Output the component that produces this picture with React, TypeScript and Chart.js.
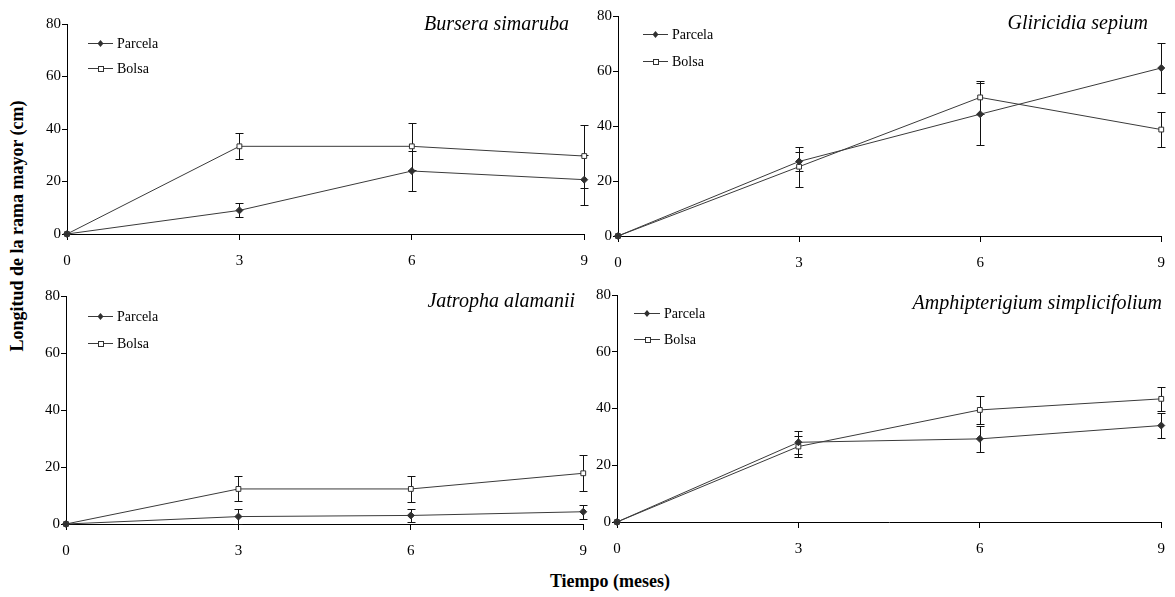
import React, { useEffect, useRef } from 'react';
import { Chart, registerables } from 'chart.js';

Chart.register(...registerables);

// ---------- data ----------
const months = [0, 3, 6, 9];
const xTickValues = [0, 3, 6, 9];
const yTickValues = [0, 20, 40, 60, 80];
const seriesNames = ['Parcela', 'Bolsa'];
const speciesNames = [
  'Bursera simaruba',
  'Gliricidia sepium',
  'Jatropha alamanii',
  'Amphipterigium simplicifolium',
];
const yAxisTitle = 'Longitud de la rama mayor (cm)';
const xAxisTitle = 'Tiempo (meses)';

const burseraParcela = [0, 9.0, 24.0, 20.7];
const burseraParcelaErr = [0, 2.7, 7.5, 9.5];
const burseraBolsa = [0, 33.4, 33.4, 29.7];
const burseraBolsaErr = [0, 5.0, 9.0, 12.0];

const gliricidiaParcela = [0, 27.1, 44.3, 61.1];
const gliricidiaParcelaErr = [0, 3.4, 11.2, 9.2];
const gliricidiaBolsa = [0, 25.2, 50.4, 38.7];
const gliricidiaBolsaErr = [0, 7.3, 6.0, 6.5];

const jatrophaParcela = [0, 2.6, 3.0, 4.3];
const jatrophaParcelaErr = [0, 2.5, 2.4, 2.4];
const jatrophaBolsa = [0, 12.3, 12.3, 17.8];
const jatrophaBolsaErr = [0, 4.4, 4.5, 6.3];

const amphiParcela = [0, 28.1, 29.3, 34.0];
const amphiParcelaErr = [0, 4.1, 4.6, 4.3];
const amphiBolsa = [0, 26.6, 39.5, 43.4];
const amphiBolsaErr = [0, 3.8, 4.9, 4.3];

const panelValues = [
  { parcela: burseraParcela, parcelaErr: burseraParcelaErr, bolsa: burseraBolsa, bolsaErr: burseraBolsaErr },
  { parcela: gliricidiaParcela, parcelaErr: gliricidiaParcelaErr, bolsa: gliricidiaBolsa, bolsaErr: gliricidiaBolsaErr },
  { parcela: jatrophaParcela, parcelaErr: jatrophaParcelaErr, bolsa: jatrophaBolsa, bolsaErr: jatrophaBolsaErr },
  { parcela: amphiParcela, parcelaErr: amphiParcelaErr, bolsa: amphiBolsa, bolsaErr: amphiBolsaErr },
];

// ---------- layout (page pixel coordinates) ----------
const PAD_TOP = 14;
const PAD_RIGHT = 14;
const X_AXIS_H = 40;
const LAYOUT = [
  { l: 67, t: 24, r: 586, b: 234, canvasL: 30, titleR: 569, titleY: 30, legX1: 88, legX2: 113, legY: [42.7, 68.3] },
  { l: 618, t: 16, r: 1163, b: 236, canvasL: 592, titleR: 1148, titleY: 28.5, legX1: 643, legX2: 668, legY: [34.3, 61] },
  { l: 66, t: 296, r: 585, b: 524, canvasL: 30, titleR: 575, titleY: 306.5, legX1: 88, legX2: 113, legY: [316, 342.7] },
  { l: 617, t: 295, r: 1163, b: 522, canvasL: 592, titleR: 1162, titleY: 309, legX1: 634, legX2: 660, legY: [312.7, 339.3] },
];

const LINE_COLOR = '#3a3a3a';
const MARK_COLOR = '#303030';
const FONT = "'Liberation Serif', 'Times New Roman', serif";

function drawDiamond(ctx: CanvasRenderingContext2D, x: number, y: number, r: number) {
  ctx.beginPath();
  ctx.moveTo(x, y - r);
  ctx.lineTo(x + r * 0.85, y);
  ctx.lineTo(x, y + r);
  ctx.lineTo(x - r * 0.85, y);
  ctx.closePath();
  ctx.fillStyle = MARK_COLOR;
  ctx.fill();
}

function drawSquare(ctx: CanvasRenderingContext2D, x: number, y: number, s: number) {
  ctx.fillStyle = '#fff';
  ctx.strokeStyle = MARK_COLOR;
  ctx.lineWidth = 1;
  const x0 = Math.round(x - s / 2) + 0.5;
  const y0 = Math.round(y - s / 2) + 0.5;
  ctx.fillRect(x0, y0, s, s);
  ctx.strokeRect(x0, y0, s, s);
}

function makeDecoPlugin(idx: number, canvasTop: number) {
  const lay = LAYOUT[idx];
  const vals = panelValues[idx];
  const errs = [vals.parcelaErr, vals.bolsaErr];
  return {
    id: 'deco' + idx,
    beforeDatasetsDraw(chart: any) {
      const { ctx } = chart;
      const xs = chart.scales.x;
      const ys = chart.scales.y;
      ctx.save();
      ctx.strokeStyle = '#111';
      ctx.lineWidth = 1;
      chart.data.datasets.forEach((ds: any, di: number) => {
        ds.data.forEach((pt: any, j: number) => {
          const e = errs[di][j];
          if (!e) return;
          const px = Math.round(xs.getPixelForValue(pt.x)) + 0.5;
          const yt = Math.round(ys.getPixelForValue(pt.y + e)) + 0.5;
          const yb = Math.round(ys.getPixelForValue(Math.max(pt.y - e, 0))) + 0.5;
          ctx.beginPath();
          ctx.moveTo(px, yt);
          ctx.lineTo(px, yb);
          ctx.moveTo(px - 4, yt);
          ctx.lineTo(px + 4, yt);
          ctx.moveTo(px - 4, yb);
          ctx.lineTo(px + 4, yb);
          ctx.stroke();
        });
      });
      ctx.restore();
    },
    afterDraw(chart: any) {
      const { ctx } = chart;
      const ox = lay.canvasL;
      const oy = canvasTop;
      ctx.save();
      // panel title
      ctx.font = `italic 20px ${FONT}`;
      ctx.fillStyle = '#000';
      ctx.textAlign = 'right';
      ctx.textBaseline = 'alphabetic';
      ctx.fillText(speciesNames[idx], lay.titleR - ox, lay.titleY - oy);
      // legend
      ctx.font = `14px ${FONT}`;
      ctx.textAlign = 'left';
      ctx.textBaseline = 'middle';
      seriesNames.forEach((name, k) => {
        const y = Math.round(lay.legY[k] - oy) + 0.5;
        const x1 = lay.legX1 - ox;
        const x2 = lay.legX2 - ox;
        ctx.strokeStyle = LINE_COLOR;
        ctx.lineWidth = 1;
        ctx.beginPath();
        ctx.moveTo(x1, y);
        ctx.lineTo(x2, y);
        ctx.stroke();
        const mx = (x1 + x2) / 2;
        if (k === 0) drawDiamond(ctx, mx, y, 3.5);
        else drawSquare(ctx, mx, y, 5);
        ctx.fillStyle = '#000';
        ctx.fillText(name, x2 + 4, y + 1);
      });
      ctx.restore();
    },
  };
}

function Panel({ idx }: { idx: number }) {
  const ref = useRef<HTMLCanvasElement | null>(null);
  const lay = LAYOUT[idx];
  const canvasTop = lay.t - PAD_TOP;
  const width = lay.r + PAD_RIGHT - lay.canvasL;
  const height = lay.b + X_AXIS_H - canvasTop;
  const yW = lay.l - lay.canvasL;

  useEffect(() => {
    const vals = panelValues[idx];
    const toPts = (arr: number[]) => months.map((m, i) => ({ x: m, y: arr[i] }));
    const chart = new Chart(ref.current as HTMLCanvasElement, {
      type: 'line',
      data: {
        datasets: [
          {
            label: seriesNames[0],
            data: toPts(vals.parcela),
            borderColor: LINE_COLOR,
            borderWidth: 1,
            pointStyle: 'rectRot',
            pointRadius: 3.5,
            pointBackgroundColor: MARK_COLOR,
            pointBorderColor: MARK_COLOR,
            pointBorderWidth: 1,
            tension: 0,
            clip: false as any,
          },
          {
            label: seriesNames[1],
            data: toPts(vals.bolsa),
            borderColor: LINE_COLOR,
            borderWidth: 1,
            pointStyle: 'rect',
            pointRadius: 3.4,
            pointBackgroundColor: '#fff',
            pointBorderColor: MARK_COLOR,
            pointBorderWidth: 1,
            tension: 0,
            clip: false as any,
          },
        ],
      },
      options: {
        animation: false,
        responsive: false,
        maintainAspectRatio: false,
        devicePixelRatio: 1,
        layout: { padding: { top: PAD_TOP, right: PAD_RIGHT, left: 0, bottom: 0 } },
        plugins: {
          legend: { display: false },
          tooltip: { enabled: false },
          title: { display: false },
        },
        scales: {
          x: {
            type: 'linear',
            min: 0,
            max: 9,
            afterBuildTicks: (s: any) => {
              s.ticks = xTickValues.map((v) => ({ value: v }));
            },
            afterFit: (s: any) => {
              s.height = X_AXIS_H;
            },
            ticks: {
              font: { family: FONT, size: 15 },
              color: '#000',
              padding: 12,
              maxRotation: 0,
              autoSkip: false,
            },
            grid: { drawOnChartArea: false, drawTicks: true, tickLength: 6, color: '#000' },
            border: { display: true, color: '#000', width: 1 },
          },
          y: {
            type: 'linear',
            min: 0,
            max: 80,
            afterBuildTicks: (s: any) => {
              s.ticks = yTickValues.map((v) => ({ value: v }));
            },
            afterFit: (s: any) => {
              s.width = yW;
            },
            ticks: {
              font: { family: FONT, size: 15 },
              color: '#000',
              padding: 1,
            },
            grid: { drawOnChartArea: false, drawTicks: true, tickLength: 5, color: '#000' },
            border: { display: true, color: '#000', width: 1 },
          },
        },
      },
      plugins: [makeDecoPlugin(idx, canvasTop)],
    } as any);
    return () => chart.destroy();
  }, [idx]);

  return (
    <canvas
      ref={ref}
      width={width}
      height={height}
      style={{ position: 'absolute', left: lay.canvasL, top: canvasTop, width, height }}
    />
  );
}

export default function App() {
  return (
    <div
      style={{
        position: 'fixed',
        left: 0,
        top: 0,
        width: 1175,
        height: 597,
        background: '#fff',
        overflow: 'hidden',
      }}
    >
      {[0, 1, 2, 3].map((i) => (
        <Panel key={i} idx={i} />
      ))}
      <div
        style={{
          position: 'absolute',
          left: 16.5,
          top: 226,
          transform: 'translate(-50%, -50%) rotate(-90deg)',
          whiteSpace: 'nowrap',
          font: `bold 18px ${FONT}`,
          lineHeight: '18px',
          color: '#000',
        }}
      >
        {yAxisTitle}
      </div>
      <div
        style={{
          position: 'absolute',
          left: 610,
          top: 581,
          transform: 'translate(-50%, -50%)',
          whiteSpace: 'nowrap',
          font: `bold 18px ${FONT}`,
          lineHeight: '18px',
          color: '#000',
        }}
      >
        {xAxisTitle}
      </div>
    </div>
  );
}
